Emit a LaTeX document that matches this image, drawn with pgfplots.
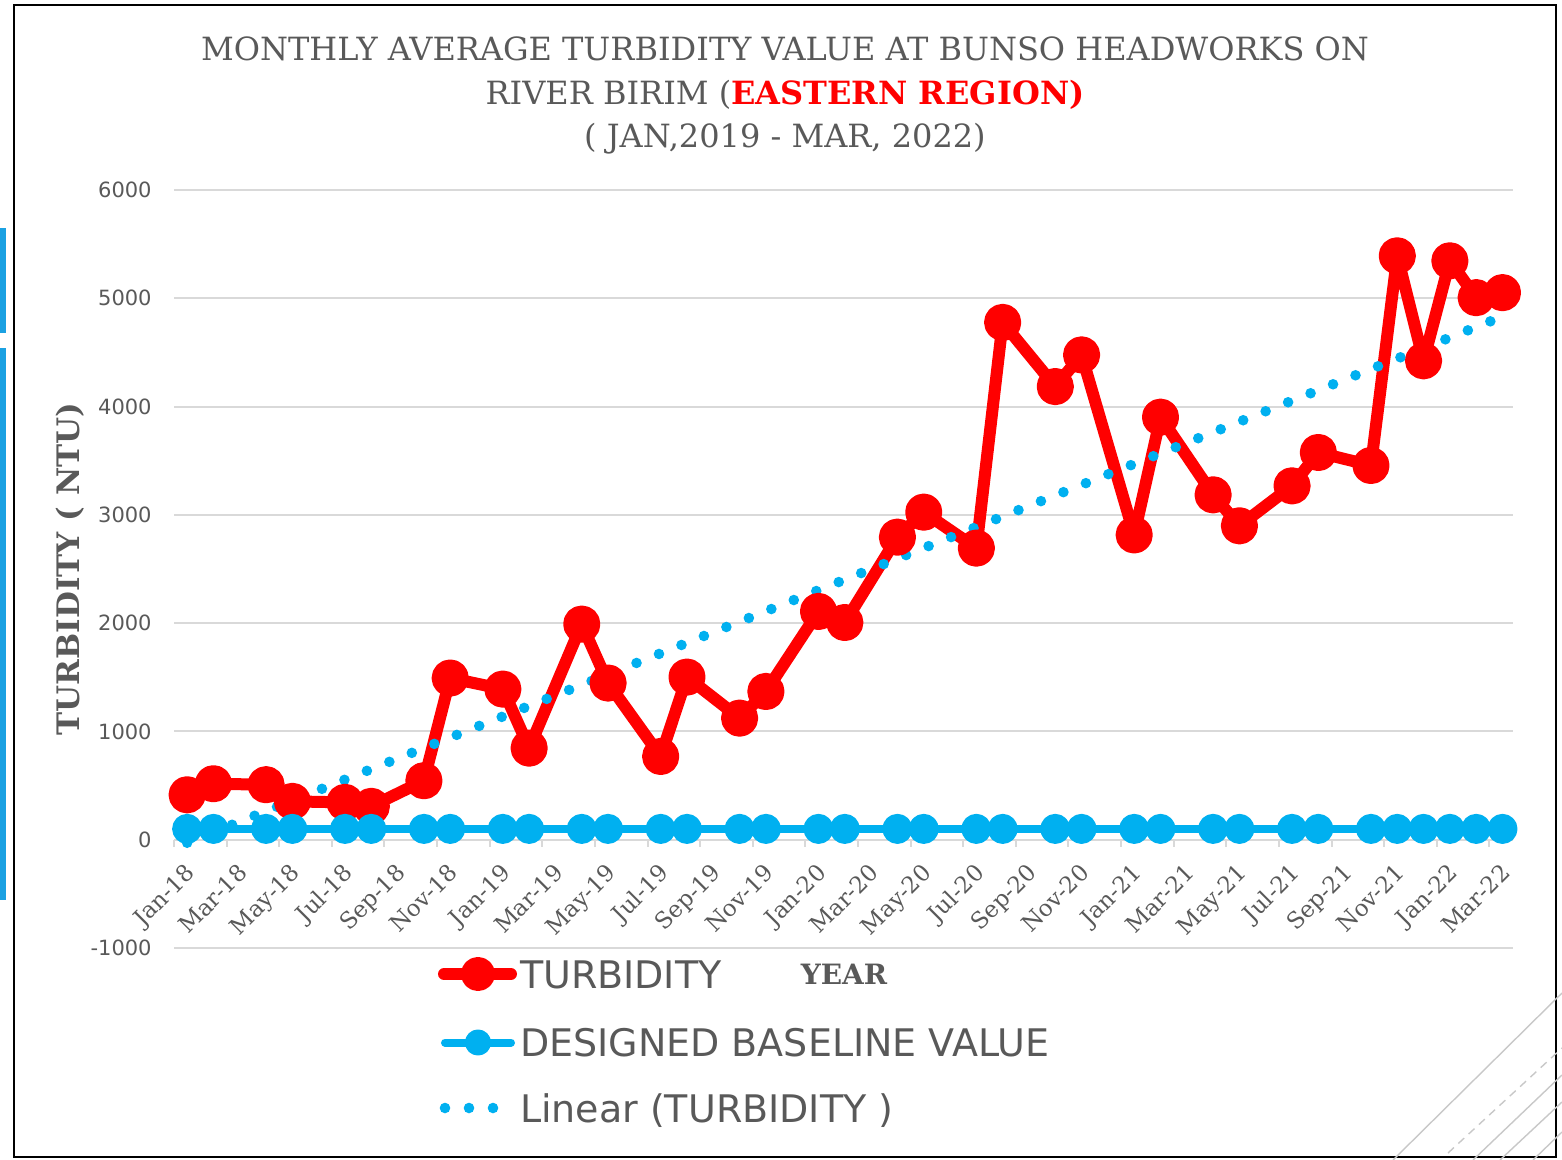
\documentclass[border=0pt]{standalone}
\usepackage{fontspec}
\setmainfont{DejaVu Serif}
\setsansfont{DejaVu Sans}
\newfontfamily\legfont{DejaVu Sans}
\usepackage{pgfplots}
\usepackage{pgfplotstable}
\pgfplotsset{compat=1.18}
\definecolor{tred}{HTML}{FF0000}
\definecolor{tblue}{HTML}{00B0F0}
\definecolor{tgray}{HTML}{595959}
\definecolor{gridc}{HTML}{D9D9D9}
\definecolor{deco}{HTML}{C8C8C8}
\definecolor{barblue}{HTML}{1BA1E2}

\pgfplotstableread{
x y
0.5 415
1.5 517
3.5 508
4.5 354
6.5 345
7.5 308
9.5 545
10.5 1493
12.5 1391
13.5 846
15.5 1991
16.5 1447
18.5 769
19.5 1502
21.5 1123
22.5 1369
24.5 2108
25.5 2006
27.5 2794
28.5 3025
30.5 2693
31.5 4777
33.5 4185
34.5 4477
36.5 2815
37.5 3902
39.5 3185
40.5 2899
42.5 3268
43.5 3576
45.5 3456
46.5 5392
47.5 4423
48.5 5346
49.5 5006
50.5 5052
}\turb

\pgfplotstableread{
x y
0.5 100
1.5 100
3.5 100
4.5 100
6.5 100
7.5 100
9.5 100
10.5 100
12.5 100
13.5 100
15.5 100
16.5 100
18.5 100
19.5 100
21.5 100
22.5 100
24.5 100
25.5 100
27.5 100
28.5 100
30.5 100
31.5 100
33.5 100
34.5 100
36.5 100
37.5 100
39.5 100
40.5 100
42.5 100
43.5 100
45.5 100
46.5 100
47.5 100
48.5 100
49.5 100
50.5 100
}\base

\begin{document}
\begin{tikzpicture}
\useasboundingbox (0pt,0pt) rectangle (781pt,-580pt);
% slide decorations
\fill[barblue] (0pt,-114pt) rectangle (3pt,-166.5pt);
\fill[barblue] (0pt,-174pt) rectangle (3pt,-450pt);
\draw[black, line width=1pt] (7pt,-2.5pt) rectangle (778pt,-578.5pt);
\begin{scope}[deco, line width=0.7pt]
\draw (696.5pt,-580pt) -- (781pt,-496.5pt);
\draw[dash pattern=on 4pt off 3pt] (724pt,-576.5pt) -- (781pt,-524pt);
\draw (736.5pt,-580pt) -- (781pt,-537.5pt);
\draw (750pt,-580pt) -- (781pt,-551pt);
\draw (766.5pt,-580pt) -- (781pt,-566pt);
\end{scope}
% title
\node[anchor=base, text=tgray, font=\fontsize{16}{19}\selectfont, inner sep=0pt] at (392.5pt,-30.5pt) {MONTHLY AVERAGE TURBIDITY VALUE AT BUNSO HEADWORKS ON};
\node[anchor=base, text=tgray, font=\fontsize{16}{19}\selectfont, inner sep=0pt] at (392.5pt,-52.5pt) {RIVER BIRIM (\textcolor{tred}{\bfseries EASTERN REGION)}};
\node[anchor=base, text=tgray, font=\fontsize{16}{19}\selectfont, inner sep=0pt] at (392.5pt,-74pt) {( JAN,2019 - MAR, 2022)};

\begin{axis}[
  at={(87pt,-474pt)}, anchor=south west,
  width=669.5pt, height=379pt, scale only axis,
  xmin=0, xmax=50.9, ymin=-1000, ymax=6000,
  clip=false,
  axis x line=middle, axis y line=left,
  hide obscured x ticks=false, hide obscured y ticks=false,
  x axis line style={-, draw=gridc, line width=1pt},
  y axis line style={-, draw=none},
  xtick={0,2,...,50},
  xticklabels={Jan-18,Mar-18,May-18,Jul-18,Sep-18,Nov-18,Jan-19,Mar-19,May-19,Jul-19,Sep-19,Nov-19,Jan-20,Mar-20,May-20,Jul-20,Sep-20,Nov-20,Jan-21,Mar-21,May-21,Jul-21,Sep-21,Nov-21,Jan-22,Mar-22},
  ytick={-1000,0,1000,2000,3000,4000,5000,6000},
  yticklabels={-1000,0,1000,2000,3000,4000,5000,6000},
  ymajorgrids,
  grid style={gridc, line width=1pt},
  xtick style={draw=gridc, line width=1pt},
  ytick style={draw=none},
  major tick length=3.5pt,
  tick align=outside,
  xticklabel style={font=\fontsize{11.5}{13}\selectfont, text=tgray, inner sep=0pt, xshift=5pt, yshift=-7.5pt, rotate=45, anchor=north east},
  yticklabel style={font=\sffamily\fontsize{10.5}{12}\selectfont, text=tgray, inner sep=0pt, anchor=east, xshift=-7.5pt},
  xlabel={YEAR},
  xlabel style={at={(axis description cs:0.5004,-0.035)}, anchor=center, font=\bfseries\fontsize{14}{16}\selectfont, text=tgray},
  ylabel={TURBIDITY ( NTU)},
  ylabel style={at={(axis description cs:-0.0773,0.5)}, anchor=center, font=\bfseries\fontsize{15.5}{18}\selectfont, text=tgray},
  legend style={at={(axis description cs:0.19716,-0.01187)}, anchor=north west, draw=none, fill=none, inner sep=0pt, outer sep=0pt,
    font=\legfont\fontsize{19}{22}\selectfont, text=tgray, row sep=18.75pt, column sep=1pt,
    nodes={inner sep=0pt, text height=14pt, text depth=0pt}},
  legend cell align=left,
]
\addplot[tred, line width=6pt, line join=round, mark=*, mark size=6.3pt, mark options={draw=none, fill=tred},
  legend image code/.code={
    \path[draw=none, fill=none] (-1pt,0pt) -- (39pt,0pt);
    \draw[tred, line width=6pt, line cap=round] (2pt,0pt) -- (35.5pt,0pt);
    \fill[tred] (19pt,0pt) circle (5.5pt);
  }] table[x=x,y=y] {\turb};
\addlegendentry{TURBIDITY}
\addplot[tblue, line width=4pt, line join=round, mark=*, mark size=5.5pt, mark options={draw=none, fill=tblue},
  legend image code/.code={
    \path[draw=none, fill=none] (-1pt,0pt) -- (39pt,0pt);
    \draw[tblue, line width=4pt, line cap=round] (2.5pt,0pt) -- (35.5pt,0pt);
    \fill[tblue] (19pt,0pt) circle (4.5pt);
  }] table[x=x,y=y] {\base};
\addlegendentry{DESIGNED BASELINE VALUE}
\addplot[tblue, line width=5.3pt, line cap=round, dash pattern=on 0pt off 12.1pt,
  legend image code/.code={
    \path[draw=none, fill=none] (-1pt,0pt) -- (39pt,0pt);
    \draw[tblue, line width=5.3pt, line cap=round, dash pattern=on 0pt off 12pt] (2.5pt,0pt) -- (27pt,0pt);
  }] coordinates {(0.5,-28) (50.5,4832)};
\addlegendentry{Linear (TURBIDITY )}
\end{axis}
\end{tikzpicture}
\end{document}
